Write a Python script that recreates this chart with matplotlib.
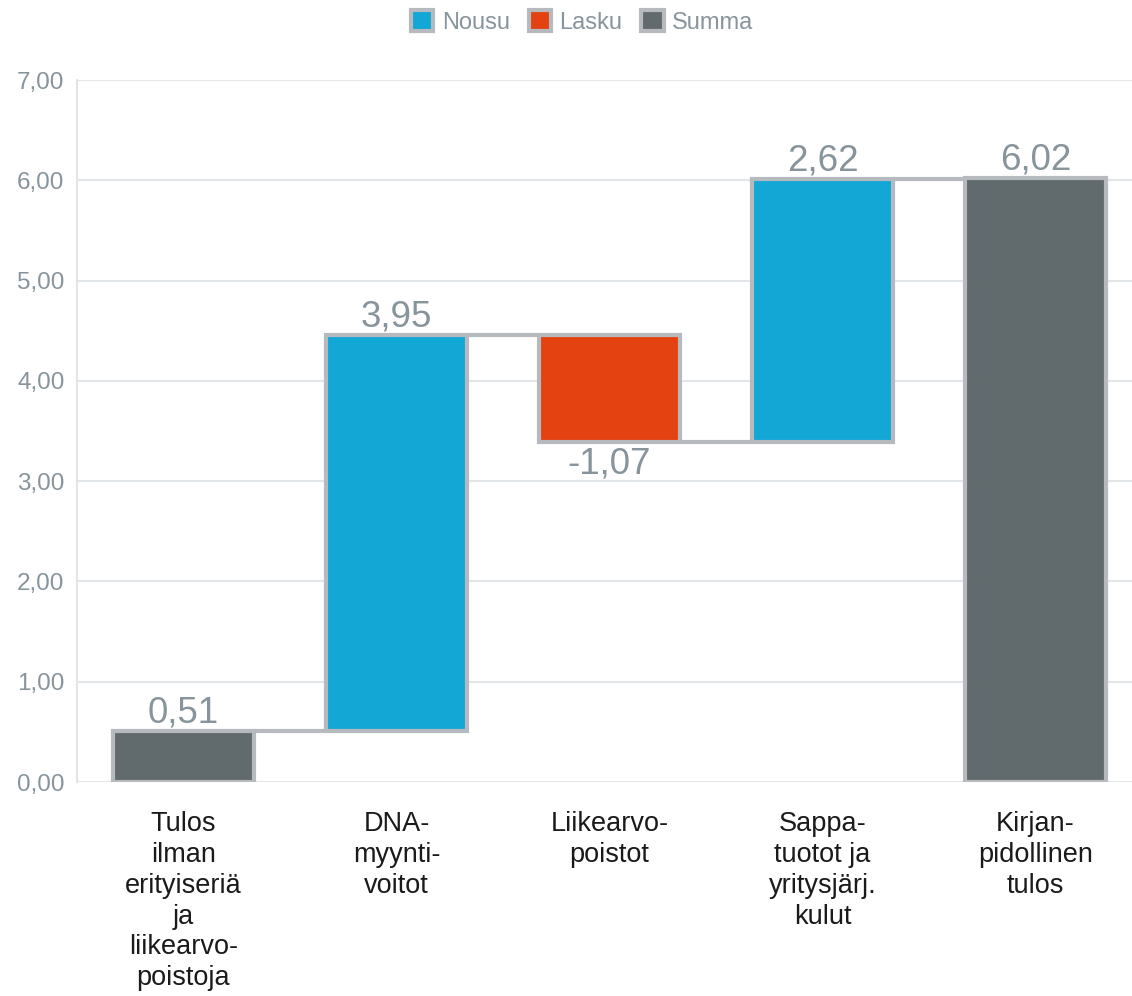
import matplotlib
matplotlib.use("Agg")
import matplotlib.pyplot as plt
from matplotlib.patches import Patch

categories = ["Tulos\nilman\nerityiseriä\nja\nliikearvo-\npoistoja",
              "DNA-\nmyynti-\nvoitot",
              "Liikearvo-\npoistot",
              "Sappa-\ntuotot ja\nyritysjärj.\nkulut",
              "Kirjan-\npidollinen\ntulos"]
values = [0.51, 3.95, -1.07, 2.62, 6.02]
kinds = ["Summa", "Nousu", "Lasku", "Nousu", "Summa"]
labels = ["0,51", "3,95", "-1,07", "2,62", "6,02"]
yticks = [0, 1, 2, 3, 4, 5, 6, 7]
ytick_labels = ["0,00", "1,00", "2,00", "3,00", "4,00", "5,00", "6,00", "7,00"]

colors = {"Nousu": "#12a7d5", "Lasku": "#e54212", "Summa": "#616a6d"}
edge = "#b6babf"
txtgray = "#87949b"
plt.rcParams['font.family'] = ['Liberation Sans', 'DejaVu Sans']

fig = plt.figure(figsize=(11.32, 9.96), dpi=100)
ax = fig.add_axes([77/1132, 1-782/996, 1-77/1132, (782-80)/996])

width = 0.66
running = 0.0
bottoms, tops = [], []
for i, (v, k) in enumerate(zip(values, kinds)):
    if k == "Summa":
        b, t = 0.0, v
        running = v
    else:
        b = running
        t = running + v
        running = t
    bottoms.append(b); tops.append(t)
    lo, hi = min(b, t), max(b, t)
    ax.bar(i, hi - lo, bottom=lo, width=width, color=colors[k],
           edgecolor=edge, linewidth=3, zorder=3)
    if v >= 0:
        ax.text(i, hi + 0.005, labels[i], ha="center", va="bottom",
                fontsize=26.5, color=txtgray, zorder=4)
    else:
        ax.text(i, lo - 0.04, labels[i], ha="center", va="top",
                fontsize=26.5, color=txtgray, zorder=4)

# connectors
for i in range(len(values) - 1):
    level = tops[i]
    ax.plot([i + width/2, i + 1 - width/2], [level, level], color=edge,
            linewidth=3, zorder=2, solid_capstyle="butt")

ax.set_xlim(-0.5, (1132 - 77) / 213 - 0.5)
ax.set_ylim(0, 7)
ax.set_yticks(yticks)
ax.set_yticklabels(ytick_labels, fontsize=17.5, color=txtgray)
ax.set_xticks(range(len(categories)))
ax.set_xticklabels(categories, fontsize=19.5, color="#1a1a1a", linespacing=1.24)
ax.tick_params(axis="both", length=0)
ax.tick_params(axis="y", pad=9)
ax.tick_params(axis="x", pad=21)
ax.grid(axis="y", color="#e3e6e8", linewidth=1.5, zorder=0)
ax.set_axisbelow(True)
for s in ["top", "right", "bottom"]:
    ax.spines[s].set_visible(False)
ax.spines["left"].set_color("#e3e6e8")
ax.spines["left"].set_linewidth(1.5)

handles = [Patch(facecolor=colors[k], edgecolor=edge, linewidth=3, label=k)
           for k in ["Nousu", "Lasku", "Summa"]]
leg = fig.legend(handles=handles, loc="center", bbox_to_anchor=(582/1132, 1-22/996),
                 ncol=3, frameon=False, fontsize=17, handlelength=0.95, handleheight=0.95,
                 handletextpad=0.35, columnspacing=0.8)
for t in leg.get_texts():
    t.set_color(txtgray)

fig.savefig("out.png", dpi=100)
